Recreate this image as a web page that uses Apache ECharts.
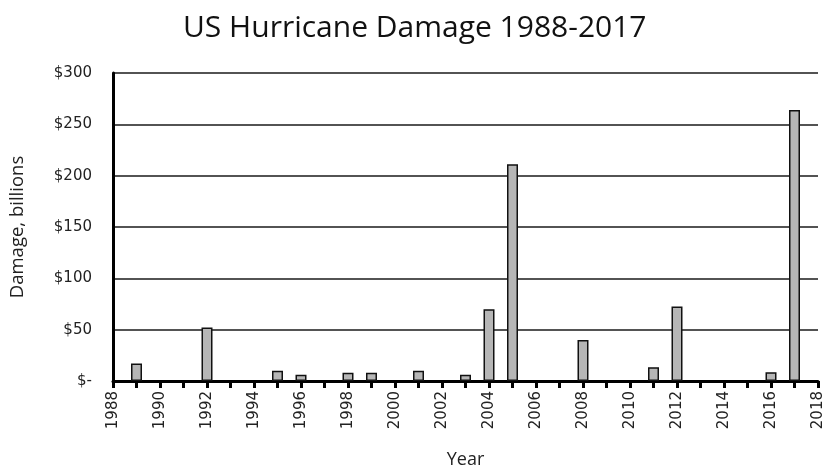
<!DOCTYPE html>
<html>
<head>
<meta charset="utf-8">
<script src="https://cdn.jsdelivr.net/npm/echarts@6/dist/echarts.min.js"></script>
<style>
  html, body { margin: 0; padding: 0; background: #fff; }
  #chart { width: 827px; height: 472px; }
</style>
</head>
<body>
<div id="chart"></div>
<script>
// Years with recorded hurricane damage and the damage in billions of dollars
const years = [1989, 1992, 1995, 1996, 1998, 1999, 2001, 2003, 2004, 2005, 2008, 2011, 2012, 2016, 2017];
const damage = [17, 52, 10, 6, 8, 8, 10, 6, 70, 211, 40, 13.5, 72.5, 8.5, 264];

const yearMin = 1988;
const yearMax = 2018;
const damageTicks = [0, 50, 100, 150, 200, 250, 300];

const chart = echarts.init(document.getElementById('chart'));
const labelFont = 'DejaVu Sans';
const nameFont = 'Open Sans';

chart.setOption({
  animation: false,
  backgroundColor: '#ffffff',
  title: {
    text: 'US Hurricane Damage 1988-2017',
    left: 178,
    top: 8,
    textStyle: { fontFamily: nameFont, fontWeight: 'normal', fontSize: 30, color: '#111' }
  },
  grid: { left: 113, right: 9, top: 73, bottom: 91, containLabel: false, outerBoundsMode: 'none' },
  xAxis: {
    type: 'value',
    min: yearMin,
    max: yearMax,
    interval: 2,
    name: 'Year',
    nameLocation: 'middle',
    nameGap: 70,
    nameTextStyle: { fontFamily: nameFont, fontSize: 18, color: '#222' },
    axisLine: { show: true, lineStyle: { color: '#000', width: 3 } },
    axisTick: { show: true, length: 7, lineStyle: { color: '#000', width: 3 } },
    minorTick: { show: true, splitNumber: 2, length: 7, lineStyle: { color: '#000', width: 3 } },
    splitLine: { show: false },
    axisLabel: {
      rotate: 90,
      margin: 10,
      fontFamily: labelFont,
      fontSize: 15,
      color: '#222',
      formatter: v => String(v)
    }
  },
  yAxis: {
    type: 'value',
    min: damageTicks[0],
    max: damageTicks[damageTicks.length - 1],
    interval: 50,
    name: 'Damage, billions',
    nameLocation: 'middle',
    nameGap: 86,
    nameTextStyle: { fontFamily: nameFont, fontSize: 18.5, color: '#222' },
    axisLine: { show: true, lineStyle: { color: '#000', width: 3 } },
    axisTick: { show: false },
    splitLine: { show: true, lineStyle: { color: '#1a1a1a', width: 1.5 } },
    axisLabel: {
      margin: 21,
      fontFamily: labelFont,
      fontSize: 15,
      color: '#222',
      formatter: v => (v === 0 ? '$-' : '$' + v)
    }
  },
  series: [{
    type: 'bar',
    barWidth: 11,
    data: years.map((y, i) => [y, damage[i]]),
    itemStyle: { color: '#b6b6b6', borderColor: '#111', borderWidth: 1.5 }
  }]
});
</script>
</body>
</html>
